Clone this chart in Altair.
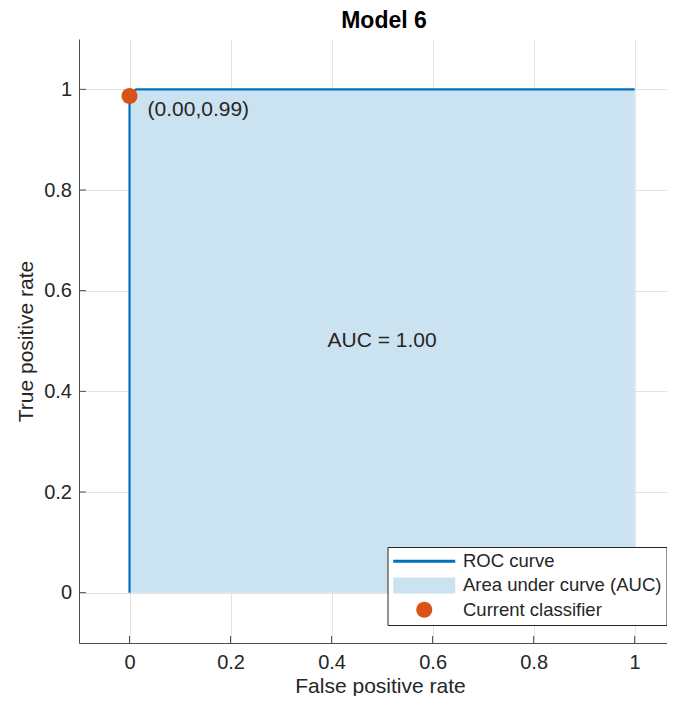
import altair as alt
import pandas as pd

# ---- data ----
roc_fpr = [0.0, 0.0, 0.013, 1.0]
roc_tpr = [0.0, 0.987, 1.0, 1.0]
current_fpr = [0.0]
current_tpr = [0.987]
current_label = ["(0.00,0.99)"]
auc_fpr = [0.5]
auc_tpr = [0.5]
auc_label = ["AUC = 1.00"]
tick_values = [0, 0.2, 0.4, 0.6, 0.8, 1]
legend_names = ["ROC curve", "Area under curve (AUC)", "Current classifier"]
legend_colors = ["#0072bd", "#cbe2f0", "#d95319"]
legend_shapes = [
    "M-31,-1.5H31V1.5H-31Z",
    "M-31,-8H31V8H-31Z",
    "M-8,0A8,8 0 1,0 8,0A8,8 0 1,0 -8,0Z",
]

FONT = "Liberation Sans"
TXT = "#262626"
AX = "#4d4d4d"
W, H = 588, 604

roc_df = pd.DataFrame({"fpr": roc_fpr, "tpr": roc_tpr,
                       "base": [0.0] * len(roc_fpr), "i": range(len(roc_fpr))})
cur_df = pd.DataFrame({"fpr": current_fpr, "tpr": current_tpr,
                       "label": current_label, "series": ["Current classifier"]})
auc_df = pd.DataFrame({"fpr": auc_fpr, "tpr": auc_tpr, "label": auc_label})
xtick_df = pd.DataFrame({"fpr": tick_values})
ytick_df = pd.DataFrame({"tpr": tick_values})

xs = alt.Scale(domain=[-0.1, 1.064], nice=False, zero=False)
ys = alt.Scale(domain=[-0.1, 1.1], nice=False, zero=False)

x_axis = alt.Axis(values=tick_values, format=".1~f", title="False positive rate",
                  grid=True, ticks=False, tickSize=0, labelBaseline="alphabetic",
                  labelPadding=25, titleBaseline="alphabetic", titleY=49, titleX=301,
                  labelFlush=False)
y_axis = alt.Axis(values=tick_values, format=".1~f", title="True positive rate",
                  grid=True, ticks=False, tickSize=0, labelPadding=7.5,
                  titleBaseline="alphabetic", titleX=-47, labelFlush=False)

X = alt.X("fpr:Q", scale=xs, axis=x_axis)
Y = alt.Y("tpr:Q", scale=ys, axis=y_axis)

area = alt.Chart(roc_df).mark_area(color="#cbe2f0", opacity=1).encode(
    x=X, y=Y, y2=alt.Y2("base:Q"))

line = alt.Chart(roc_df).mark_line(color="#0072bd", strokeWidth=2.2).encode(
    x=X, y=Y, order="i:Q")

leg = alt.Legend(title=None, orient="none", legendX=308.5, legendY=508,
                 strokeColor="#262626", fillColor="white", padding=5,
                 rowPadding=5.2, symbolOffset=22.5, labelOffset=29.5,
                 labelFontSize=18.5, labelFont=FONT, labelColor=TXT,
                 symbolSize=4, symbolStrokeWidth=0, symbolOpacity=1,
                 labelLimit=400)

point = alt.Chart(cur_df).mark_point(filled=True, size=4, opacity=1, strokeWidth=0).encode(
    x=X, y=Y,
    color=alt.Color("series:N", scale=alt.Scale(domain=legend_names, range=legend_colors),
                    legend=leg, sort=legend_names),
    shape=alt.Shape("series:N", scale=alt.Scale(domain=legend_names, range=legend_shapes),
                    legend=leg, sort=legend_names),
)

pt_text = alt.Chart(cur_df).mark_text(align="left", baseline="middle", dx=18, dy=14,
                                      fontSize=21, font=FONT, color=TXT).encode(
    x=X, y=Y, text="label:N")

auc_text = alt.Chart(auc_df).mark_text(align="center", baseline="middle",
                                       fontSize=21, font=FONT, color=TXT).encode(
    x=X, y=Y, text="label:N")

xticks = alt.Chart(xtick_df).mark_rule(color=AX, strokeWidth=1).encode(
    x=X, y=alt.value(H), y2=alt.value(H - 7))
yticks = alt.Chart(ytick_df).mark_rule(color=AX, strokeWidth=1).encode(
    y=Y, x=alt.value(0), x2=alt.value(7))

chart = alt.layer(area, line, xticks, yticks, point, pt_text, auc_text).properties(
    width=W, height=H, background="white",
    title=alt.TitleParams("Model 6", fontSize=23, fontWeight="bold", font=FONT,
                          color="#000000", offset=6, dx=11, anchor="middle"),
    autosize=alt.AutoSizeParams(type="none"),
    padding={"left": 71, "top": 31, "right": 0, "bottom": 53},
).configure_view(stroke=None).configure_axis(
    labelFont=FONT, labelFontSize=20, labelColor=TXT,
    titleFont=FONT, titleFontSize=21, titleColor=TXT, titleFontWeight="normal",
    domainColor=AX, domainWidth=1, gridColor="#e3e3e3", gridWidth=1,
)

chart.save("out.html", embed_options={"renderer": "svg", "actions": False})
